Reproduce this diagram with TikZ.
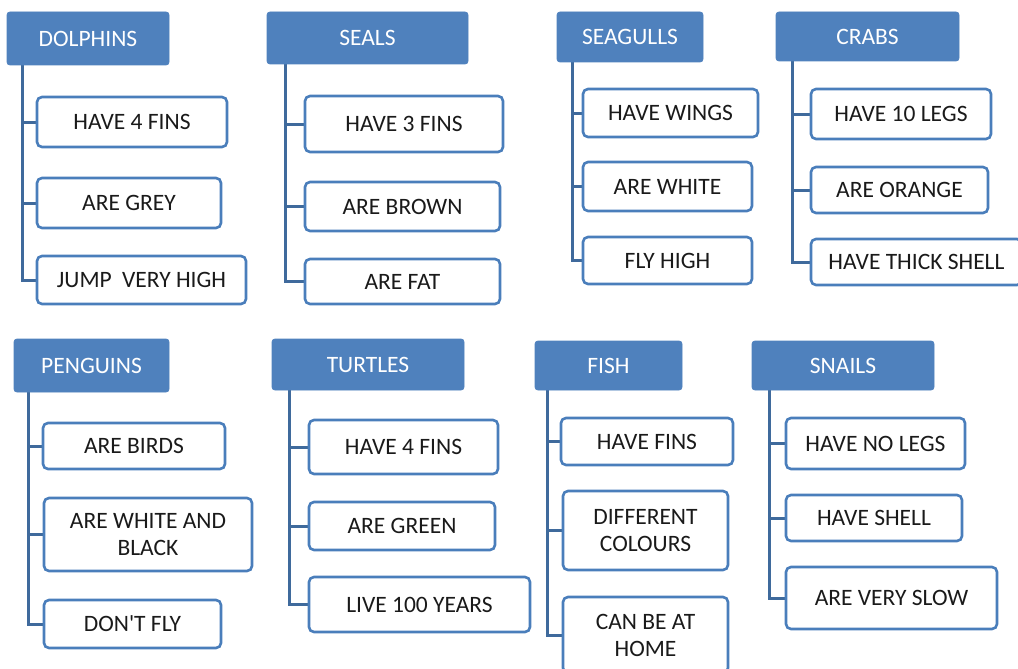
\documentclass[tikz,border=0pt]{standalone}
\usepackage{fontspec}
\setmainfont{Carlito}
\usetikzlibrary{backgrounds}
\definecolor{hdrblue}{HTML}{4F81BD}
\definecolor{edgeblue}{HTML}{4A7EBB}
\definecolor{trunk}{HTML}{3F6A9C}
\definecolor{txt}{HTML}{1A1A1A}
\tikzset{
  hdr/.style={fill=hdrblue, draw=hdrblue, line width=0.8pt, rounded corners=3pt, text=white,
    inner sep=0pt, outer sep=0pt, font=\fontsize{23.5}{27}\selectfont, align=center},
  item/.style={fill=white, draw=edgeblue, line width=2.6pt, rounded corners=5pt, text=txt,
    inner sep=0pt, outer sep=0pt, font=\fontsize{23.5}{27}\selectfont, align=center},
  conn/.style={draw=trunk, line width=3pt},
}
\begin{document}
\begin{tikzpicture}[x=1pt, y=-1pt]
\useasboundingbox (0,0) rectangle (1018,669);
% ---------- DOLPHINS
\node[hdr, minimum width=162pt, minimum height=53pt] (h1) at (88,38.5) {DOLPHINS};
\node[item, minimum width=190pt, minimum height=50pt] (c11) at (132,122) {HAVE 4 FINS};
\node[item, minimum width=184pt, minimum height=50pt] (c12) at (129,203) {ARE GREY};
\node[item, minimum width=209pt, minimum height=48pt] (c13) at (141.5,280) {JUMP\hspace{5pt} VERY HIGH};
\coordinate (t1) at (22,65);
% ---------- SEALS
\node[hdr, minimum width=201pt, minimum height=52pt] (h2) at (367.5,38) {SEALS};
\node[item, minimum width=198pt, minimum height=56pt] (c21) at (404,124) {HAVE 3 FINS};
\node[item, minimum width=195pt, minimum height=49pt] (c22) at (402.5,206.5) {ARE BROWN};
\node[item, minimum width=195pt, minimum height=45pt] (c23) at (402.5,281.5) {ARE FAT};
\coordinate (t2) at (285,64);
% ---------- SEAGULLS
\node[hdr, minimum width=146pt, minimum height=50pt] (h3) at (630,37) {SEAGULLS};
\node[item, minimum width=175pt, minimum height=48pt] (c31) at (670.5,113) {HAVE WINGS};
\node[item, minimum width=169pt, minimum height=49pt] (c32) at (667.5,186.5) {ARE WHITE};
\node[item, minimum width=169pt, minimum height=47pt] (c33) at (667.5,260.5) {FLY HIGH};
\coordinate (t3) at (572,62);
% ---------- CRABS
\node[hdr, minimum width=183pt, minimum height=49pt] (h4) at (867.5,36.5) {CRABS};
\node[item, minimum width=180pt, minimum height=50pt] (c41) at (901,114) {HAVE 10 LEGS};
\node[item, minimum width=177pt, minimum height=46pt] (c42) at (899.5,190) {ARE ORANGE};
\node[item, minimum width=211pt, minimum height=46pt] (c43) at (916.5,262) {HAVE THICK SHELL};
\coordinate (t4) at (792,61);
% ---------- PENGUINS
\node[hdr, minimum width=155pt, minimum height=53pt] (h5) at (91.5,365.5) {PENGUINS};
\node[item, minimum width=182pt, minimum height=46pt] (c51) at (134,446) {ARE BIRDS};
\node[item, minimum width=208pt, minimum height=73pt] (c52) at (148,534.5) {ARE WHITE AND\\BLACK};
\node[item, minimum width=177pt, minimum height=48pt] (c53) at (132.5,624) {DON\textquotesingle T FLY};
\coordinate (t5) at (28,392);
% ---------- TURTLES
\node[hdr, minimum width=192pt, minimum height=51pt] (h6) at (368,364.5) {TURTLES};
\node[item, minimum width=189pt, minimum height=54pt] (c61) at (403.5,447) {HAVE 4 FINS};
\node[item, minimum width=186pt, minimum height=48pt] (c62) at (402,526) {ARE GREEN};
\node[item, minimum width=221pt, minimum height=55pt] (c63) at (419.5,604.5) {LIVE 100 YEARS};
\coordinate (t6) at (289,390);
% ---------- FISH
\node[hdr, minimum width=147pt, minimum height=49pt] (h7) at (608.5,365.5) {FISH};
\node[item, minimum width=172pt, minimum height=47pt] (c71) at (647,441.5) {HAVE FINS};
\node[item, minimum width=165pt, minimum height=79pt] (c72) at (645.5,530.5) {DIFFERENT\\COLOURS};
\node[item, minimum width=165pt, minimum height=76pt] (c73) at (645.5,635) {CAN BE AT\\HOME};
\coordinate (t7) at (547,390);
% ---------- SNAILS
\node[hdr, minimum width=182pt, minimum height=49pt] (h8) at (843,365.5) {SNAILS};
\node[item, minimum width=179pt, minimum height=51pt] (c81) at (875.5,443.5) {HAVE NO LEGS};
\node[item, minimum width=176pt, minimum height=46pt] (c82) at (874,518) {HAVE SHELL};
\node[item, minimum width=211pt, minimum height=62pt] (c83) at (891.5,598) {ARE VERY SLOW};
\coordinate (t8) at (769,390);
% ---------- connectors
\begin{scope}[on background layer]
\foreach \g in {1,...,8}{
  \foreach \k in {1,2,3}{
    \draw[conn] (t\g) |- (c\g\k.west);
  }
}
\end{scope}
\end{tikzpicture}
\end{document}
